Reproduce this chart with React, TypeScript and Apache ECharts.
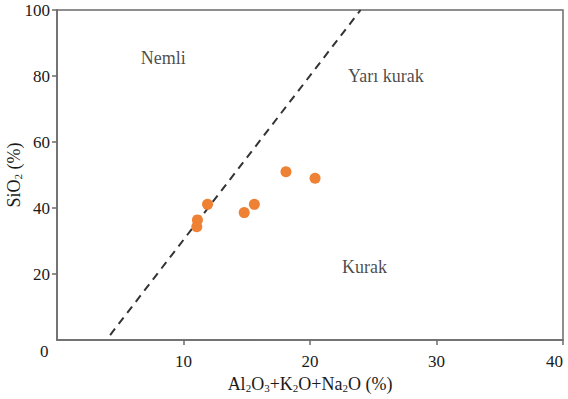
import React, { useEffect, useRef } from "react";
import * as echarts from "echarts";

const xValues = [18.1, 20.4, 11.9, 15.6, 14.8, 11.1, 11.05];
const yValues = [51.0, 49.0, 41.1, 41.1, 38.6, 36.4, 34.3];
const boundaryX = [4.2, 24.0];
const boundaryY = [1.5, 100];
const regionLabels = ["Nemli", "Yarı kurak", "Kurak"];
const regionX = [8.4, 26.0, 24.3];
const regionY = [85.5, 80, 22];

const FONT = "Times New Roman, Liberation Serif, serif";
const AX = "#6b6b6b";
const TXT = "#1a1a1a";

export default function App() {
  const ref = useRef<HTMLDivElement>(null);
  useEffect(() => {
    if (!ref.current) return;
    const chart = echarts.init(ref.current, undefined, { renderer: "svg" });
    const points = xValues.map((x, i) => [x, yValues[i]]);
    const line = boundaryX.map((x, i) => [x, boundaryY[i]]);
    const labels = regionLabels.map((t, i) => ({ value: [regionX[i], regionY[i]], name: t }));
    const rich = {
      n: { fontFamily: FONT, fontSize: 18, color: TXT, verticalAlign: "bottom", lineHeight: 20 },
      s: { fontFamily: FONT, fontSize: 11, color: TXT, verticalAlign: "bottom", lineHeight: 14 },
    };
    chart.setOption({
      animation: false,
      backgroundColor: "#ffffff",
      textStyle: { fontFamily: FONT },
      grid: {
        left: 57,
        right: 5,
        top: 10,
        bottom: 59,
        show: true,
        borderColor: AX,
        borderWidth: 1.5,
        containLabel: false,
        outerBoundsMode: "none",
      },
      xAxis: {
        type: "value",
        min: 0,
        max: 40,
        interval: 10,
        splitLine: { show: false },
        axisLine: { show: true, onZero: false, lineStyle: { color: AX, width: 1.5 } },
        axisTick: { show: true, inside: false, length: 5, lineStyle: { color: AX, width: 1.5 } },
        axisLabel: {
          showMinLabel: false,
          alignMaxLabel: "right",
          margin: 13,
          color: TXT,
          fontFamily: FONT,
          fontSize: 17,
        },
        name: "{n|Al}{s|2}{n|O}{s|3}{n|+K}{s|2}{n|O+Na}{s|2}{n|O (%)}",
        nameLocation: "middle",
        nameGap: 33,
        nameMoveOverlap: false,
        nameTextStyle: { rich },
      },
      yAxis: {
        type: "value",
        min: 0,
        max: 100,
        interval: 20,
        splitLine: { show: false },
        axisLine: { show: true, onZero: false, lineStyle: { color: AX, width: 1.5 } },
        axisTick: { show: true, inside: false, length: 5, lineStyle: { color: AX, width: 1.5 } },
        axisLabel: {
          showMinLabel: false,
          margin: 7,
          color: TXT,
          fontFamily: FONT,
          fontSize: 17,
        },
        name: "{n|SiO}{s|2}{n| (%)}",
        nameLocation: "middle",
        nameGap: 34,
        nameMoveOverlap: false,
        nameRotate: 90,
        nameTextStyle: { rich },
      },
      graphic: [
        {
          type: "text",
          left: 40,
          top: 343,
          style: { text: "0", fontFamily: FONT, fontSize: 17, fill: TXT },
        },
      ],
      series: [
        {
          type: "line",
          data: line,
          symbol: "none",
          lineStyle: { color: "#333", width: 2, type: [8, 6] },
          silent: true,
          z: 2,
        },
        {
          type: "scatter",
          data: points,
          symbol: "circle",
          symbolSize: 11,
          itemStyle: { color: "#EE8133", opacity: 1 },
          z: 3,
        },
        {
          type: "scatter",
          data: labels,
          symbolSize: 0,
          silent: true,
          label: {
            show: true,
            position: "inside",
            formatter: (p: any) => p.name,
            fontFamily: FONT,
            fontSize: 18,
            color: TXT,
          },
        },
      ],
    });
    return () => chart.dispose();
  }, []);
  return (
    <div
      ref={ref}
      style={{ position: "fixed", left: 0, top: 0, width: 568, height: 399 }}
    />
  );
}
